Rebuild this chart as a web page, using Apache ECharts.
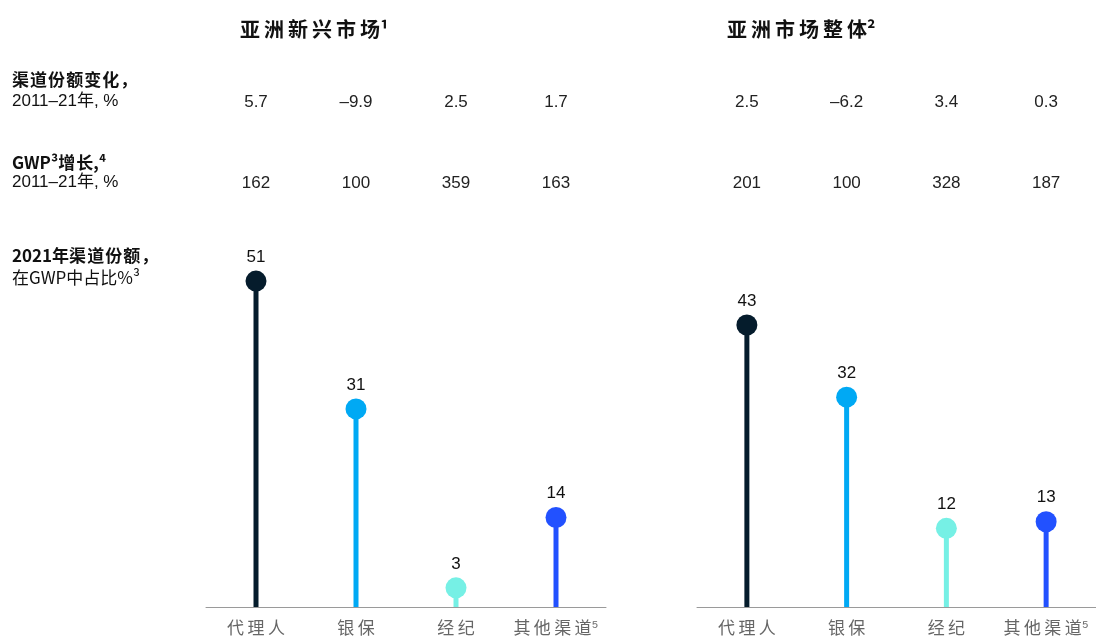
<!DOCTYPE html>
<html>
<head>
<meta charset="utf-8">
<script src="https://cdn.jsdelivr.net/npm/echarts@6/dist/echarts.min.js"></script>
<style>
  html, body { margin: 0; padding: 0; background: #fff; }
  #chart { width: 1096px; height: 639px; }
</style>
</head>
<body>
<div id="chart"></div>
<script>
const categories = ["代理人", "银保", "经纪", "其他渠道⁵"];
const colors = ["#051c2c", "#00a9f4", "#76f0e5", "#2251ff"];

const emergingShare = [51, 31, 3, 14];
const emergingChange = ["5.7", "–9.9", "2.5", "1.7"];
const emergingGrowth = ["162", "100", "359", "163"];

const asiaShare = [43, 32, 12, 13];
const asiaChange = ["2.5", "–6.2", "3.4", "0.3"];
const asiaGrowth = ["201", "100", "328", "187"];

const numFont = "'Liberation Sans', Arial, 'Noto Sans CJK SC', sans-serif";
const cjkFont = "'Noto Sans CJK SC', sans-serif";

// widen CJK text a little, the original is set loosely
const spaced = (s, gap) => Array.from(s).join(gap || "\u200a");
const supChars = "⁰¹²³⁴⁵⁶⁷⁸⁹";

const chart = echarts.init(document.getElementById("chart"));

const panels = [
  { left: 206, max: 62.6, share: emergingShare, change: emergingChange, growth: emergingGrowth },
  { left: 697, max: 61, share: asiaShare, change: asiaChange, growth: asiaGrowth }
];

const grids = [], xAxes = [], yAxes = [], series = [];

panels.forEach((p, i) => {
  grids.push({ left: p.left, width: 400, top: 207, height: 400 });
  xAxes.push({
    type: "category", gridIndex: i, data: categories,
    axisLine: { lineStyle: { color: "#9a9a9a", width: 1 } },
    axisTick: { show: false },
    axisLabel: {
      color: "#666", fontFamily: cjkFont, fontSize: 17, margin: 12, interval: 0, hideOverlap: false,
      formatter: (v) => {
        const last = v.slice(-1);
        if (supChars.includes(last)) return spaced(v.slice(0, -1), "\u2009") + "{s|" + last + "}";
        return spaced(v, "\u2009");
      },
      rich: { s: { fontFamily: "'Liberation Sans', sans-serif", fontSize: 17, color: "#666" } }
    }
  });
  yAxes.push({ type: "value", gridIndex: i, min: 0, max: p.max, show: false, splitLine: { show: false } });

  // stems
  series.push({
    type: "bar", xAxisIndex: i, yAxisIndex: i, barWidth: 5, silent: true,
    data: p.share.map((v, k) => ({ value: v, itemStyle: { color: colors[k] } }))
  });
  // heads
  series.push({
    type: "scatter", xAxisIndex: i, yAxisIndex: i, symbolSize: 21, silent: true,
    data: p.share.map((v, k) => ({ value: [k, v], itemStyle: { color: colors[k], opacity: 1 } })),
    label: { show: true, position: "top", distance: 5, color: "#111", fontFamily: numFont, fontSize: 17,
      formatter: (d) => d.value[1] }
  });
  // text rows above the chart, placed at the category x
  [[p.change, 102], [p.growth, 183]].forEach(([vals, y]) => {
    series.push({
      type: "custom", xAxisIndex: i, yAxisIndex: i, silent: true, clip: false,
      data: vals.map((v, k) => [k, 0, v]),
      renderItem: (params, api) => {
        const x = api.coord([api.value(0), 0])[0];
        return {
          type: "text",
          style: { x: x, y: y, text: vals[params.dataIndex], align: "center", verticalAlign: "middle",
            fill: "#222", font: "17px " + numFont }
        };
      }
    });
  });
});

const label = (x, y, text, bold, size, font) => ({
  type: "text", left: x, top: y,
  style: { text: text, fill: "#111", font: (bold ? "bold " : "") + size + "px " + (font || cjkFont) }
});

chart.setOption({
  animation: false,
  grid: grids,
  xAxis: xAxes,
  yAxis: yAxes,
  series: series,
  graphic: [
    label(240, 19, spaced("亚洲新兴市场", "\u2009") + "¹", true, 20),
    label(727, 19, spaced("亚洲市场整体", "\u2009") + "²", true, 20),
    label(12, 71, spaced("渠道份额变化，"), true, 17),
    label(12, 93, "2011–21年, %", false, 17, numFont),
    label(12, 154, "GWP³" + spaced("增长") + ",⁴", true, 17),
    label(12, 174, "2011–21年, %", false, 17, numFont),
    label(12, 247, "2021年" + spaced("渠道份额，"), true, 17),
    label(12, 269, "在GWP中占比%³", false, 17)
  ]
});
</script>
</body>
</html>
